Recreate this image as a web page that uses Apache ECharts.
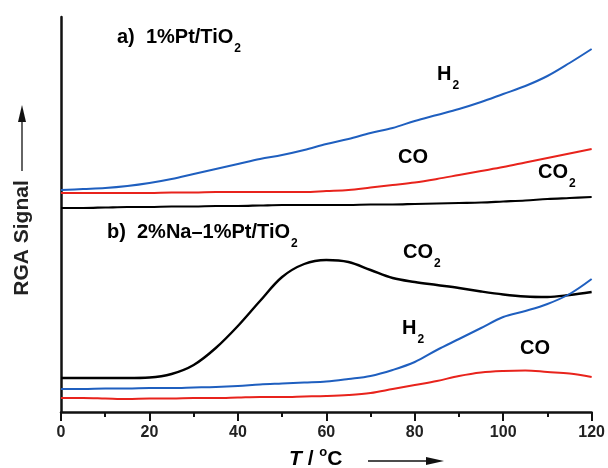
<!DOCTYPE html>
<html>
<head>
<meta charset="utf-8">
<script src="https://cdn.jsdelivr.net/npm/echarts@6/dist/echarts.min.js"></script>
<style>
html,body{margin:0;padding:0;background:#fff;}
#chart{width:608px;height:468px;}
</style>
</head>
<body>
<div id="chart"></div>
<script>
// Temperature grid (°C)
var temps = [0,5,10,15,20,25,30,35,40,45,50,55,60,65,70,75,80,85,90,95,100,105,110,115,120];
// x-axis tick labels
var xTicks = [0,20,40,60,80,100,120];

// a) 1%Pt/TiO2 (arbitrary RGA signal units, offset panel)
var aH2  = [222,223,224,226,229,233,238,243,248,253,257,262,268,273,279,284,291,297,303,310,318,326,336,349,363];
var aCO  = [219,219,219,219,219,219.5,219.5,220,220,220,220,220,221,222,224.5,227,229.5,233,237,241,245,249.5,254,258.5,263];
var aCO2 = [204,204,204.5,205,205,205.5,205.5,206,206,206.5,207,207,207,207,207.5,207.5,208,208.5,209,209.5,210.5,211.5,213,214,215];

// b) 2%Na-1%Pt/TiO2
var bCO2 = [34,34,34,34,34.5,38,47,64,86,111,135,148,152,150,142,134,130,127,124,120.5,117.5,115.5,115,117,120];
var bH2  = [23,23,23.5,23.5,24,24,24.5,25,26,27.5,28.5,29.5,30.5,33,36,42,50,62,73,84,95,101,108,118,133];
var bCO  = [14,14,13.5,13,13.5,13.5,14,14,14.5,15,15,15.5,16,17,19,23,27,31,36,39.5,41,41.5,40,38.5,35];

function pairs(vals){ return temps.map(function(t,i){ return [t, vals[i]]; }); }

var BLUE = '#1f5fbf', RED = '#e8231c', BLACK = '#000000';
var FONT = '"Liberation Sans", Arial, Helvetica, sans-serif';
var TXT = '#222222';

function mkSeries(name, vals, color, w){
  return {
    name: name, type: 'line', data: pairs(vals), smooth: 0.35,
    showSymbol: false, symbol: 'none',
    lineStyle: {color: color, width: w}, itemStyle: {color: color},
    silent: true, animation: false
  };
}

var LH = 36;
var richBase = {
  m: {fontSize: 20, fontWeight: 'bold', fontFamily: FONT, color: TXT, lineHeight: LH},
  s: {fontSize: 12, fontWeight: 'bold', fontFamily: FONT, color: TXT, lineHeight: 14, verticalAlign: 'bottom', padding: [0, 0, 0, 1]}
};

function label(x, y, main, sub){
  return {
    type: 'text', left: x, top: y - LH / 2, silent: true,
    style: {
      text: '{m|' + main + '}' + (sub ? '{s|' + sub + '}' : ''),
      rich: richBase
    }
  };
}

var chart = echarts.init(document.getElementById('chart'), null, {renderer: 'canvas'});
chart.setOption({
  animation: false,
  backgroundColor: '#ffffff',
  grid: {left: 61, right: 13, top: 17, bottom: 56},
  xAxis: {
    type: 'value', min: 0, max: 120, interval: 20,
    axisLine: {show: true, lineStyle: {color: '#111', width: 2.5}},
    axisTick: {show: true, inside: false, length: 9, lineStyle: {color: '#111', width: 2}},
    minorTick: {show: true, splitNumber: 2, length: 5, lineStyle: {color: '#111', width: 2}},
    axisLabel: {
      fontSize: 16, fontWeight: 'bold', fontFamily: FONT, color: TXT, margin: 13,
      formatter: function(v){ return xTicks.indexOf(v) >= 0 ? String(v) : ''; }
    },
    splitLine: {show: false}
  },
  yAxis: {
    type: 'value', min: 0, max: 395,
    axisLine: {show: true, onZero: false, lineStyle: {color: '#111', width: 2.5}},
    axisTick: {show: false}, axisLabel: {show: false}, splitLine: {show: false}
  },
  series: [
    mkSeries('a H2', aH2, BLUE, 2),
    mkSeries('a CO', aCO, RED, 2),
    mkSeries('a CO2', aCO2, BLACK, 2.2),
    mkSeries('b CO2', bCO2, BLACK, 2.4),
    mkSeries('b H2', bH2, BLUE, 2),
    mkSeries('b CO', bCO, RED, 2)
  ],
  graphic: [
    label(117, 45, 'a)  1%Pt/TiO', '2'),
    label(437, 82, 'H', '2'),
    label(398, 165, 'CO', ''),
    label(538, 180, 'CO', '2'),
    label(107, 240, 'b)  2%Na\u20131%Pt/TiO', '2'),
    label(403, 260, 'CO', '2'),
    label(402, 336, 'H', '2'),
    label(520, 356, 'CO', ''),
    // y-axis title
    {
      type: 'text', x: 22, y: 238, rotation: Math.PI / 2, silent: true,
      style: {text: 'RGA Signal', font: 'bold 21px ' + FONT, fill: TXT, align: 'center', verticalAlign: 'middle'}
    },
    // y arrow
    {type: 'line', silent: true, shape: {x1: 22, y1: 171, x2: 22, y2: 118}, style: {stroke: '#111', lineWidth: 1.3}},
    {type: 'polygon', silent: true, shape: {points: [[22, 105], [18, 122], [26, 122]]}, style: {fill: '#111'}},
    // x-axis title
    {
      type: 'text', left: 289, top: 446, silent: true,
      style: {
        text: '{i|T}{n| / }{o|o}{n|C}',
        rich: {
          i: {fontSize: 21, fontWeight: 'bold', fontStyle: 'italic', fontFamily: FONT, color: TXT},
          n: {fontSize: 21, fontWeight: 'bold', fontFamily: FONT, color: TXT},
          o: {fontSize: 13, fontWeight: 'bold', fontFamily: FONT, color: TXT, verticalAlign: 'top', lineHeight: 26}
        }
      }
    },
    // x arrow
    {type: 'line', silent: true, shape: {x1: 368, y1: 461, x2: 430, y2: 461}, style: {stroke: '#111', lineWidth: 1.3}},
    {type: 'polygon', silent: true, shape: {points: [[444, 461], [426, 457], [426, 465]]}, style: {fill: '#111'}}
  ]
});
</script>
</body>
</html>
